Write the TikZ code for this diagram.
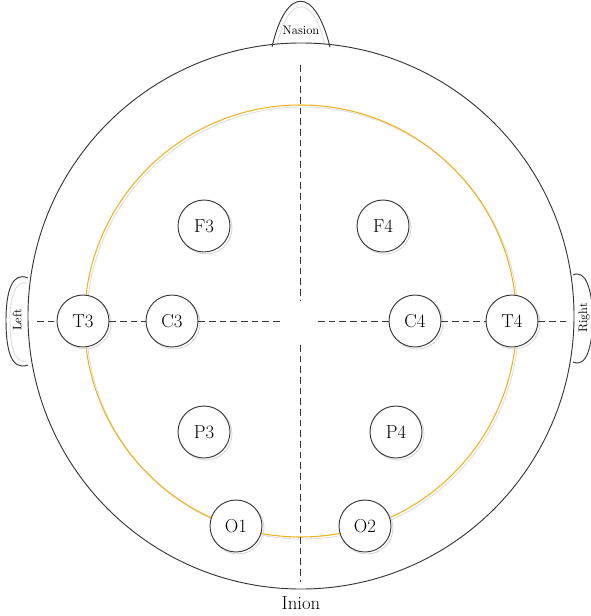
\documentclass[tikz,border=0pt]{standalone}
\usetikzlibrary{positioning, calc}
\definecolor{headgray}{RGB}{55,55,55}
\definecolor{capyellow}{RGB}{240,178,30}
\tikzset{
  electrode/.style={circle, draw=headgray, fill=white, line width=0.8pt, minimum size=1.56cm, inner sep=0pt,
    font=\fontsize{16}{18}\selectfont,
    preaction={draw=gray!30, line width=0.8pt, transform canvas={xshift=0.06cm, yshift=-0.06cm}}},
  midline/.style={draw=headgray, line width=0.8pt, dash pattern=on 0.2cm off 0.12cm},
  outline/.style={draw=headgray, line width=0.8pt},
  faint/.style={draw=gray!25, line width=0.8pt},
  landmark/.style={font=\fontsize{10.5}{12}\selectfont}
}
\begin{document}
\begin{tikzpicture}[x=0.03cm, y=-0.03cm]
  \useasboundingbox (0,0) rectangle (591,616);

  % nose and ears
  \draw[outline, fill=white] (272,47) .. controls (286,-14) and (315,-14) .. (330,47);
  \draw[faint] (277,45) .. controls (289,-6) and (313,-6) .. (325,45);
  \draw[outline, fill=white] (28,278) .. controls (12,271) and (6,292) .. (6,320)
    .. controls (6,350) and (11,371) .. (28,365);
  \draw[faint] (27,283) .. controls (15,280) and (10,298) .. (10,320)
    .. controls (10,346) and (14,364) .. (27,361);
  \draw[outline, fill=white] (573,275) .. controls (586,269) and (592,290) .. (593,318)
    .. controls (592,346) and (587,368) .. (573,362);
  \node[landmark] (nasion) at (301,30) {Nasion};
  \node[landmark, rotate=90] (left) at (17,320) {Left};
  \node[landmark, rotate=90] (right) at (584,318) {Right};

  % head and cap
  \draw[outline] (301,316) circle[radius=8.19cm];
  \draw[faint] (302.5,323) circle[radius=6.48cm];
  \draw[capyellow, line width=0.9pt] (300.5,321) circle[radius=6.48cm];
  \node[font=\fontsize{16}{18}\selectfont] (inion) at (301,603) {Inion};

  % electrodes
  \node[electrode] (F3) at (204,226) {F3};
  \node[electrode] (F4) at (383,226) {F4};
  \node[electrode] (T3) at (83,321) {T3};
  \node[electrode] (C3) at (172,321) {C3};
  \node[electrode] (C4) at (415,321) {C4};
  \node[electrode] (T4) at (512,321) {T4};
  \node[electrode] (P3) at (204,432) {P3};
  \node[electrode] (P4) at (396,432) {P4};
  \node[electrode] (O1) at (236,526) {O1};
  \node[electrode] (O2) at (365,526) {O2};

  % midlines
  \coordinate (vtop) at (300,65);
  \coordinate (vmid1) at (300,300);
  \coordinate (vmid2) at (300,345);
  \coordinate (vbot) at (300,582);
  \coordinate (hleft) at (37,321);
  \coordinate (hmid1) at (282,321);
  \coordinate (hmid2) at (318,321);
  \coordinate (hright) at (567,321);
  \draw[midline] (vtop) -- (vmid1);
  \draw[midline] (vmid2) -- (vbot);
  \draw[midline] (hleft) -- (T3);
  \draw[midline] (T3) -- (C3);
  \draw[midline] (C3) -- (hmid1);
  \draw[midline] (hmid2) -- (C4);
  \draw[midline] (C4) -- (T4);
  \draw[midline] (T4) -- (hright);
\end{tikzpicture}
\end{document}
